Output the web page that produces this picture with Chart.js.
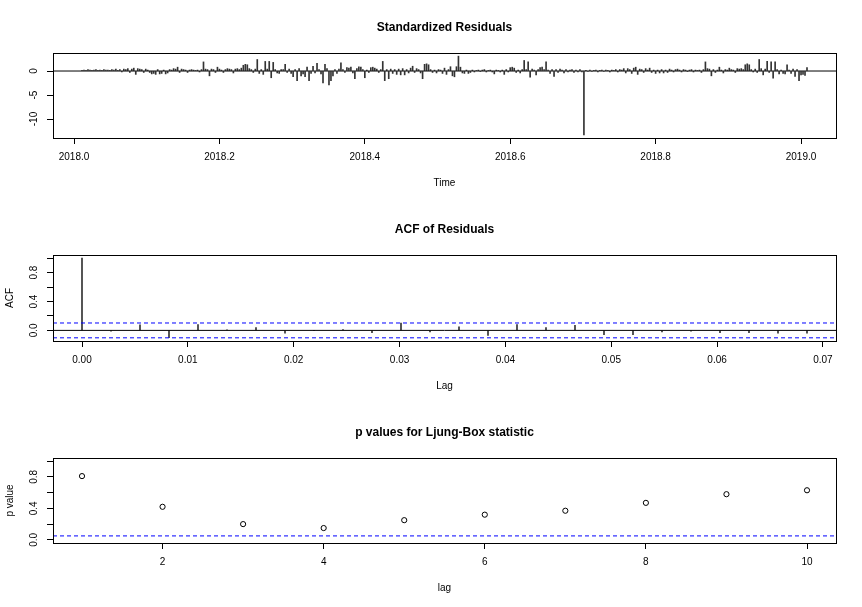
<!DOCTYPE html>
<html>
<head>
<meta charset="utf-8">
<script src="https://cdn.jsdelivr.net/npm/chart.js@4.4.0/dist/chart.umd.min.js"></script>
<style>
  html, body { margin: 0; padding: 0; background: #fff; }
  #wrap { position: relative; width: 862px; height: 607px; }
  canvas { position: absolute; left: 0; }
</style>
</head>
<body>
<div id="wrap">
  <canvas id="resid" width="862" height="202" style="top:0px"></canvas>
  <canvas id="acf" width="862" height="203" style="top:202px"></canvas>
  <canvas id="ljung" width="862" height="202" style="top:405px"></canvas>
</div>
<script>
// standardized residuals, daily series (frequency 365)
const residStart = 2018 + 4 / 365
const residFreq = 365
const residuals = [
  0.1, 0.2, 0.1, 0.3, 0.2, 0.1, 0.2, 0.3, 0.1, 0.2, 0.1, 0.3, 0.2, 0.2, 0.1, 0.3, 0.2, 0.4, 0.1, 0.3,
  -0.2, 0.4, 0.3, 0.5, -0.3, 0.4,
  0.6, -0.7, 0.5, 0.4, 0.3, -0.3, 0.4, 0.2, -0.3, -0.6, -0.5, -0.7, 0.3, -0.6, -0.5, 0.2, -0.6, -0.4, 0.3, 0.2,
  0.5, 0.4, 0.8, -0.3, 0.4, 0.3, 0.2, -0.3, 0.2, 0.3, 0.2, 0.1, 0.2, -0.2, 0.3,
  1.9, 0.4, 0.3, -1.0, 0.4, 0.3, -0.3, 0.8, 0.4, 0.2, -0.3, 0.3, 0.5, 0.4, 0.3, -0.4, 0.4, 0.5, 0.3, 0.6,
  1.2, 1.4, 1.3, 0.5, 0.3, -0.3, 0.4, 2.4, -0.5, 0.3, -0.7, 2.0, 0.4, 2.0, -1.4, 1.8, 0.3, -0.4, -0.5, 0.3,
  0.3, 1.4, -0.3, 0.4, -0.5, -1.2, 0.3, -2.0, 0.5, -1.0, -0.6, -1.2, 0.8, -2.0, -0.5, 1.0, -0.4, 1.6, 0.3, -0.6,
  -2.5, 1.4, 0.5, -2.9, -2.0, -1.0, 0.3, -0.5, 0.4, 1.7,
  0.3, -0.3, 0.7, 0.6, 0.8, -0.4, -1.6, 0.5, 0.9, 0.8, 0.3, -1.4, 0.2, -0.3, 0.7, 0.8, 0.6, 0.4, -0.3, 0.3,
  2.0, -2.0, 0.3, -1.6, 0.4, -0.5, 0.3, -0.7, 0.4, -0.8, 0.5, -0.8, 0.3, -0.4, 0.6, 1.0, -0.3, 0.5, 0.3, -0.4,
  -1.6, 1.4, 1.5, 1.3, 0.3, -0.3, 0.2, -0.4, 0.3, 0.2, -0.5, 0.6, -0.7, 0.3, 0.9, -1.0, -1.2, 0.9, 3.1, 0.8,
  -0.4, -0.5, 0.2, -0.5, -0.3, 0.2, -0.2, 0.1, 0.2, -0.1, 0.2, 0.3, -0.2, 0.1, 0.2, -0.2, -0.6, 0.2, 0.1, -0.2,
  0.2, -0.7, 0.3, -0.2, 0.7, 0.8, 0.6, -0.3, 0.2, -0.4, 0.3, 2.2, 0.3, 1.9, -1.3, 0.4, 0.2, -0.8, 0.3, 0.7,
  0.8, 0.3, 1.9, 0.2, -0.5, 0.3, -1.1, 0.3, -0.3, 0.4, 0.2, -0.4, 0.3, -0.2, 0.2, 0.3, -0.3, 0.2, -0.2, 0.3,
  -0.2,
  -13.3,
  0.1, -0.1, 0.2, -0.1, 0.1, 0.2, -0.2, 0.1, 0.2, -0.1, 0.2, 0.1, -0.2, 0.2, 0.1, 0.3, -0.2, 0.3, 0.2, 0.5,
  -0.4, 0.5, 0.3, -0.5, 0.6, 0.8, -0.7, 0.4, 0.3, -0.3, 0.5, 0.2, 0.6, -0.3, 0.2, -0.5, 0.2, -0.4, 0.3, -0.4,
  0.2, -0.3, 0.4, 0.2, -0.2, 0.3, 0.4, 0.2, -0.2, 0.3, 0.2, -0.1, 0.2, 0.3, -0.2, 0.2, 0.1, 0.2, -0.3,
  0.3, 1.9, 0.5, 0.4, -1.0, 0.3, -0.3, 0.2, 0.8, 0.2, -0.4, 0.3, 0.2, 0.6, 0.3, 0.2, -0.3, 0.5, 0.4, 0.5,
  0.3, 1.3, 1.5, 1.3, 0.3, -0.2, 0.4, -0.3, 2.4, 0.5, -0.8, 0.4, 2.0, -0.3, 1.9, -1.5, 1.9, 0.3, -0.6, 0.2,
  -0.5, -0.6, 1.3, 0.2, -0.5, 0.4, -1.1, 0.3, -2.0, -0.8, -0.7, -0.9, 0.7
]
const residXTicks = [2018.0, 2018.2, 2018.4, 2018.6, 2018.8, 2019.0]
const residYTicks = [-10, -5, 0]
const residYLabels = ['-10', '-5', '0']

// ACF of residuals, lags 0..25 (lag in years = k / 365)
const acfValues = [1, -0.01, 0.076, -0.10, 0.08, 0.005, 0.04, -0.04, 0.0, 0.01, -0.03, 0.10, -0.02,
  0.05, -0.07, 0.08, 0.04, 0.07, -0.06, -0.06, -0.02, -0.01, -0.03, -0.03, -0.04, -0.04]
const acfBounds = [0.1026, -0.1026]
const acfXTicks = [0, 0.01, 0.02, 0.03, 0.04, 0.05, 0.06, 0.07]
const acfYTicks = [0, 0.2, 0.4, 0.6, 0.8, 1.0]
const acfYLabels = ['0.0', '', '0.4', '', '0.8', '']

// Ljung-Box p values
const ljungLags = [1, 2, 3, 4, 5, 6, 7, 8, 9, 10]
const ljungP = [0.81, 0.42, 0.20, 0.15, 0.25, 0.32, 0.37, 0.47, 0.58, 0.63]
const ljungLevel = 0.05
const ljungXTicks = [2, 4, 6, 8, 10]
const ljungYTicks = [0, 0.2, 0.4, 0.6, 0.8, 1.0]
const ljungYLabels = ['0.0', '', '0.4', '', '0.8', '']

Chart.defaults.font.family = '"Liberation Sans", Arial, sans-serif'
Chart.defaults.font.size = 10
Chart.defaults.color = '#000'

// R style axis range: data range plus 4% on each side
function extend(lo, hi) {
  const d = (hi - lo) * 0.04
  return [lo - d, hi + d]
}

const boxPlugin = {
  id: 'box',
  afterDatasetsDraw(chart) {
    const { ctx, chartArea: a } = chart
    ctx.save()
    ctx.strokeStyle = '#000'
    ctx.lineWidth = 1
    ctx.strokeRect(Math.round(a.left) + 0.5, Math.round(a.top) + 0.5,
      Math.round(a.right - a.left), Math.round(a.bottom - a.top))
    ctx.restore()
  }
}

function hline(y, xr, color, dash) {
  return {
    type: 'line',
    data: [{ x: xr[0], y: y }, { x: xr[1], y: y }],
    borderColor: color,
    borderWidth: 1,
    borderDash: dash,
    pointRadius: 0,
    order: 0
  }
}

function panelOptions(p) {
  return {
    responsive: false,
    animation: false,
    events: [],
    layout: { padding: { left: 0, right: 26, top: 0, bottom: 0 } },
    plugins: {
      legend: { display: false },
      tooltip: { enabled: false },
      title: {
        display: true,
        text: p.title,
        fullSize: false,
        color: '#000',
        font: { size: 12, weight: 'bold' },
        padding: { top: 20, bottom: 18.6 }
      }
    },
    scales: {
      x: {
        type: 'linear',
        bounds: 'data',
        offset: false,
        min: p.xr[0],
        max: p.xr[1],
        afterBuildTicks: s => { s.ticks = p.xTicks.map(v => ({ value: v })) },
        afterFit: s => { s.height = 64 },
        grid: { offset: false, drawOnChartArea: false, color: '#000', tickLength: 6 },
        border: { display: false },
        ticks: { autoSkip: false, maxRotation: 0, padding: 7, color: '#000', callback: p.xFmt },
        title: { display: true, text: p.xLabel, color: '#000', padding: { top: 0, bottom: 13 } }
      },
      y: {
        type: 'linear',
        bounds: 'data',
        min: p.yr[0],
        max: p.yr[1],
        afterBuildTicks: s => { s.ticks = p.yTicks.map(v => ({ value: v })) },
        afterFit: s => { s.width = 53 },
        grid: { drawOnChartArea: false, color: '#000', tickLength: 6 },
        border: { display: false },
        ticks: {
          autoSkip: false, minRotation: 90, maxRotation: 90, crossAlign: 'center', padding: 6,
          color: '#000', callback: (v, i) => p.yLabels[i]
        },
        title: { display: !!p.yLabel, text: p.yLabel, color: '#000', padding: { top: 4, bottom: 0 } }
      }
    }
  }
}

// panel 1: standardized residuals
const residX = extend(residStart, residStart + (residuals.length - 1) / residFreq)
const residY = extend(Math.min(...residuals), Math.max(...residuals))
new Chart(document.getElementById('resid'), {
  type: 'bar',
  data: {
    datasets: [
      hline(0, residX, '#000', []),
      {
        type: 'bar',
        data: residuals.map((v, i) => ({ x: residStart + i / residFreq, y: v })),
        backgroundColor: '#333',
        barThickness: 1,
        grouped: false,
        order: 1
      }
    ]
  },
  options: panelOptions({
    title: 'Standardized Residuals', xLabel: 'Time', yLabel: '',
    xr: residX, yr: residY, xTicks: residXTicks, yTicks: residYTicks, yLabels: residYLabels,
    xFmt: v => v.toFixed(1)
  }),
  plugins: [boxPlugin]
})

// panel 2: ACF of residuals
const acfLags = acfValues.map((_, k) => k / residFreq)
const acfX = extend(0, acfLags[acfLags.length - 1])
const acfY = extend(Math.min(...acfValues, ...acfBounds), Math.max(...acfValues, ...acfBounds))
new Chart(document.getElementById('acf'), {
  type: 'bar',
  data: {
    datasets: [
      hline(0, acfX, '#000', []),
      hline(acfBounds[0], acfX, '#0000ff', [4, 3]),
      hline(acfBounds[1], acfX, '#0000ff', [4, 3]),
      {
        type: 'bar',
        data: acfValues.map((v, k) => ({ x: acfLags[k], y: v })),
        backgroundColor: '#333',
        barThickness: 1,
        grouped: false,
        order: 1
      }
    ]
  },
  options: panelOptions({
    title: 'ACF of Residuals', xLabel: 'Lag', yLabel: 'ACF',
    xr: acfX, yr: acfY, xTicks: acfXTicks, yTicks: acfYTicks, yLabels: acfYLabels,
    xFmt: v => v.toFixed(2)
  }),
  plugins: [boxPlugin]
})

// panel 3: p values for Ljung-Box statistic
const ljungX = extend(ljungLags[0], ljungLags[ljungLags.length - 1])
const ljungY = extend(0, 1)
new Chart(document.getElementById('ljung'), {
  type: 'scatter',
  data: {
    datasets: [
      hline(ljungLevel, ljungX, '#0000ff', [4, 3]),
      {
        type: 'scatter',
        data: ljungLags.map((l, i) => ({ x: l, y: ljungP[i] })),
        pointStyle: 'circle',
        pointRadius: 2.6,
        borderColor: '#000',
        backgroundColor: 'rgba(0,0,0,0)',
        borderWidth: 1,
        order: 1
      }
    ]
  },
  options: panelOptions({
    title: 'p values for Ljung-Box statistic', xLabel: 'lag', yLabel: 'p value',
    xr: ljungX, yr: ljungY, xTicks: ljungXTicks, yTicks: ljungYTicks, yLabels: ljungYLabels,
    xFmt: v => String(v)
  }),
  plugins: [boxPlugin]
})
</script>
</body>
</html>
